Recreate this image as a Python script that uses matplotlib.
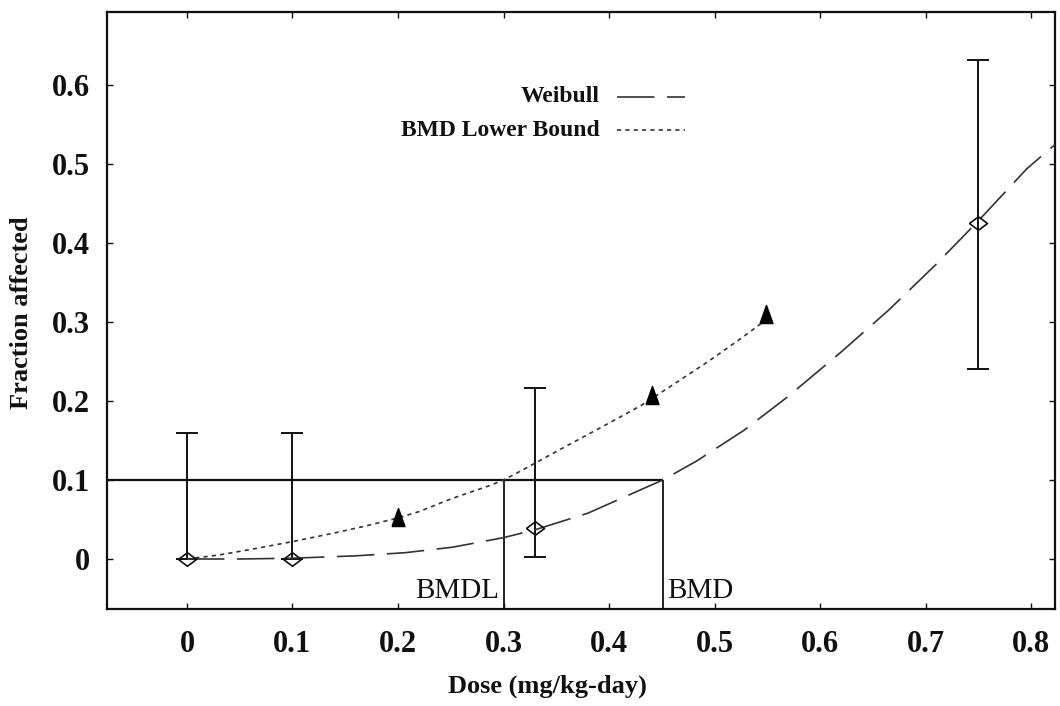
import matplotlib
matplotlib.use("Agg")
import matplotlib.pyplot as plt

plt.rcParams['font.family'] = ['Liberation Serif', 'DejaVu Serif']
plt.rcParams['lines.scale_dashes'] = False

# ---- data ----
dose = [0.0, 0.1, 0.33, 0.75]
frac = [0.0, 0.0, 0.039, 0.425]
err_lo = [0.0, 0.0, 0.003, 0.24]
err_hi = [0.16, 0.16, 0.216, 0.632]

tri_x = [0.2, 0.441, 0.549]
tri_y = [0.053, 0.208, 0.31]

weibull_x = [0.0, 0.05, 0.1, 0.16, 0.207, 0.252, 0.3, 0.33, 0.38, 0.434, 0.451,
             0.483, 0.528, 0.569, 0.62, 0.665, 0.71, 0.75, 0.796, 0.823]
weibull_y = [0.0, 0.0, 0.001, 0.004, 0.008, 0.015, 0.027, 0.037, 0.058, 0.09, 0.1,
             0.124, 0.163, 0.205, 0.262, 0.315, 0.373, 0.428, 0.494, 0.525]

lower_x = [0.0, 0.03, 0.06, 0.1, 0.14, 0.17, 0.2, 0.22, 0.25, 0.287, 0.3, 0.313,
           0.35, 0.4, 0.43, 0.46, 0.494, 0.527, 0.549]
lower_y = [0.0, 0.005, 0.012, 0.022, 0.033, 0.042, 0.052, 0.06, 0.076, 0.093, 0.1,
           0.109, 0.136, 0.172, 0.194, 0.22, 0.25, 0.281, 0.303]

BMR = 0.1
BMD = 0.451
BMDL = 0.300

xticks = [0, 0.1, 0.2, 0.3, 0.4, 0.5, 0.6, 0.7, 0.8]
xticklabels = ['0', '0.1', '0.2', '0.3', '0.4', '0.5', '0.6', '0.7', '0.8']
yticks = [0, 0.1, 0.2, 0.3, 0.4, 0.5, 0.6]
yticklabels = ['0', '0.1', '0.2', '0.3', '0.4', '0.5', '0.6']
XLIM = (-0.0758, 0.8227)
YLIM = (-0.0633, 0.6924)

# ---- figure ----
fig = plt.figure(figsize=(10.6, 7.06), dpi=100)
ax = fig.add_axes([107/1060, 1 - 609/706, (1055-107)/1060, (609-12)/706])
ax.set_xlim(*XLIM)
ax.set_ylim(*YLIM)

ink = '#111111'
WDASH = (0, (27, 9))
DOT = (0, (3, 3))

diamond = [(-1, 0), (0, 0.75), (1, 0), (0, -0.75), (-1, 0)]
triangle = [(-0.72, -1), (0.72, -1), (0, 1), (-0.72, -1)]

# BMR / BMD / BMDL reference lines
ax.hlines(BMR, XLIM[0], BMD, color=ink, lw=1.6, zorder=2)
ax.vlines([BMDL, BMD], YLIM[0], BMR, color=ink, lw=1.3, zorder=2)

# error bars
yerr = [[f - lo for f, lo in zip(frac, err_lo)], [hi - f for f, hi in zip(frac, err_hi)]]
ax.errorbar(dose, frac, yerr=yerr, fmt='none', ecolor=ink, elinewidth=1.4,
            capsize=8, capthick=1.4, zorder=3)

# curves
ax.plot(weibull_x, weibull_y, color='#333333', lw=1.2, linestyle=WDASH, zorder=4)
ax.plot(lower_x, lower_y, color='#333333', lw=1.2, linestyle=DOT, zorder=4)

# markers
ax.plot(dose, frac, linestyle='none', marker=diamond, markersize=13,
        markerfacecolor='none', markeredgecolor=ink, markeredgewidth=1.2, zorder=5)
ax.plot(tri_x, tri_y, linestyle='none', marker=triangle, markersize=13,
        color='black', zorder=5)

# BMDL / BMD labels
ax.text(BMDL - 0.004, YLIM[0] + 0.006, 'BMDL', ha='right', va='bottom',
        fontsize=21, color=ink)
ax.text(BMD + 0.004, YLIM[0] + 0.006, 'BMD', ha='left', va='bottom',
        fontsize=21, color=ink)

# legend (gnuplot style: text right-aligned, sample to the right)
ax.text(0.520, 0.858, 'Weibull', transform=ax.transAxes, ha='right', va='center',
        fontsize=17, fontweight='bold', color=ink)
ax.text(0.520, 0.802, 'BMD Lower Bound', transform=ax.transAxes, ha='right', va='center',
        fontsize=17, fontweight='bold', color=ink)
ax.plot([0.538, 0.610], [0.858, 0.858], transform=ax.transAxes, color='#333333',
        lw=1.2, linestyle=WDASH)
ax.plot([0.538, 0.610], [0.802, 0.802], transform=ax.transAxes, color='#333333',
        lw=1.2, linestyle=DOT)

# axes styling
ax.set_xticks(xticks)
ax.set_xticklabels(xticklabels)
ax.set_yticks(yticks)
ax.set_yticklabels(yticklabels)
ax.tick_params(axis='both', which='both', direction='in', length=4, width=1,
               top=True, right=True, colors=ink, labelsize=22)
ax.tick_params(axis='x', pad=15)
ax.tick_params(axis='y', pad=12)
for lab in ax.get_xticklabels() + ax.get_yticklabels():
    lab.set_fontweight('bold')
for sp in ax.spines.values():
    sp.set_linewidth(1.6)
    sp.set_color(ink)

ax.set_xlabel('Dose (mg/kg-day)', fontsize=19, fontweight='bold', color=ink)
ax.set_ylabel('Fraction affected', fontsize=19, fontweight='bold', color=ink)
ax.xaxis.set_label_coords(0.465, -0.1106)
ax.yaxis.set_label_coords(-0.078, 0.496)

fig.savefig('out.png', dpi=100)
